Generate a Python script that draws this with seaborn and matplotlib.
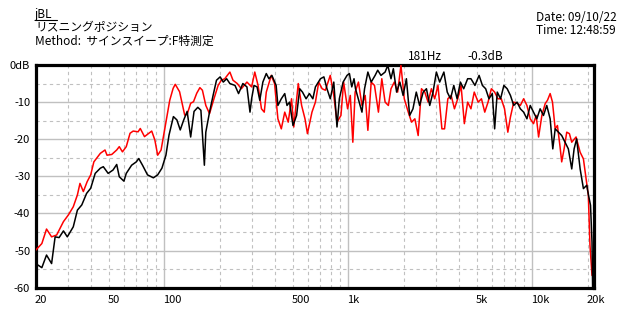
import numpy as np
import pandas as pd
import matplotlib
matplotlib.use("Agg")
import matplotlib.pyplot as plt
import matplotlib.transforms as mtrans
from matplotlib.lines import Line2D
import seaborn as sns

# ---------------- data ----------------
red_freq = [20, 21.6, 22.9, 24.4, 26.0, 28.3, 30.1, 32.0, 33.7, 34.8, 36.3, 38.1, 39.8, 41.4,
            44.9, 47.6, 48.8, 51.8, 55.1, 56.9, 59.2, 62.1, 65.1, 67.7, 72.0, 74.0, 78.0, 85.4,
            88.8, 92.0, 96.0, 101, 107, 111.6, 114.6, 121, 129, 133, 139, 144, 150, 156,
            161, 168, 176, 186, 196, 204, 213, 227, 236, 249, 262, 281, 298, 310, 323, 337,
            349, 358, 381, 397, 414, 432, 451, 471, 491, 505, 534, 557, 581, 599, 634, 662,
            690, 720, 750, 797, 833, 867, 911, 942, 990, 1024, 1057, 1088, 1134, 1185, 1234,
            1276, 1330, 1386, 1456, 1519, 1583, 1649, 1704, 1776, 1852, 1930, 2012, 2115,
            2204, 2297, 2394, 2495, 2600, 2710, 2824, 2943, 3067, 3222, 3330, 3470, 3617,
            3769, 3928, 4093, 4266, 4446, 4633, 4828, 5070, 5284, 5507, 5739, 5980, 6232,
            6494, 6768, 7053, 7350, 7594, 7914, 8316, 8594, 8956, 9333, 9726, 10136, 10477,
            10800, 11250, 11730, 12070, 12480, 12850, 13290, 13670, 14130, 14420, 14860,
            15360, 15880, 16350, 17260, 18160, 18920, 19550, 20120, 20540, 21070]
red_db = [-49.9, -48.1, -44.2, -46.3, -45.8, -42.2, -40.4, -38.2, -35.0, -31.9, -34.1, -31.4, -29.6, -26.1,
          -23.8, -22.9, -24.3, -24.1, -22.9, -22.0, -23.4, -22.0, -18.4, -17.8, -18.0, -17.1, -19.3, -17.8,
          -20.2, -24.3, -22.9, -16.6, -9.5, -6.3, -5.2, -7.2, -13.5, -13.3, -10.3, -9.9, -7.6, -6.1,
          -6.8, -10.9, -13.1, -9.1, -5.5, -4.1, -3.7, -1.9, -4.1, -5.0, -6.4, -4.6, -5.9, -1.9, -5.5, -11.8,
          -12.7, -7.3, -2.8, -5.0, -14.5, -17.2, -12.7, -15.4, -9.1, -16.7, -5.0, -10.9, -14.5, -18.5, -12.7, -10.0,
          -4.6, -6.4, -6.8, -2.8, -8.2, -15.4, -13.6, -4.6, -11.8, -8.2, -20.8, -7.3, -4.6, -10.9, -8.2,
          -17.6, -4.6, -5.5, -12.7, -3.7, -10.0, -10.9, -6.4, -4.6, -7.3, -0.1, -9.1, -12.7,
          -15.4, -14.5, -19.0, -6.4, -7.3, -10.0, -6.4, -9.1, -5.5, -17.2, -17.2, -9.1, -8.2,
          -11.8, -9.1, -5.5, -15.8, -10.0, -11.8, -7.3, -10.0, -9.1, -12.7, -10.0, -6.4, -7.3,
          -9.1, -9.1, -11.8, -18.1, -14.0, -10.0, -10.4, -10.9, -9.1, -10.9, -14.5, -15.8, -13.6,
          -19.4, -13.6, -10.4, -9.5, -7.7, -10.0, -17.2, -16.3, -22.1, -26.1, -22.6,
          -18.1, -18.5, -20.8, -19.4, -23.5, -25.3, -30.6, -35.1, -48.6, -56.7]

black_freq = [20, 21.6, 22.9, 24.4, 25.5, 26.8, 28.3, 29.7, 32.0, 33.7, 35.6, 37.8, 39.8, 42.1,
              44.9, 46.6, 49.5, 52.6, 55.1, 56.9, 60.3, 62.1, 66.4, 70.4, 72.6, 76.1, 81.0, 87.2,
              92.0, 97, 102, 106, 112, 117, 122, 127, 133, 139, 145, 152, 158, 165, 168, 176,
              184, 192, 201, 209, 218, 227, 242, 253, 267, 281, 292, 298, 307, 319, 330, 343,
              358, 370, 384, 405, 414, 432, 451, 464, 479, 500, 523, 544, 563, 589, 614, 641,
              662, 705, 736, 765, 797, 833, 867, 893, 936, 983, 1013, 1043, 1073, 1093, 1144,
              1185, 1224, 1276, 1330, 1397, 1443, 1503, 1583, 1637, 1704, 1755, 1828, 1904,
              1983, 2066, 2152, 2243, 2338, 2437, 2549, 2655, 2767, 2884, 3006, 3133, 3302,
              3444, 3588, 3738, 3896, 4060, 4232, 4446, 4633, 4870, 5130, 5347, 5570, 5805,
              6051, 6232, 6440, 6712, 6995, 7290, 7594, 7914, 8248, 8594, 8956, 9333, 9726,
              10136, 10560, 11010, 11480, 11960, 12480, 12900, 13290, 13850, 14420, 15030,
              15670, 16350, 16840, 17380, 18160, 18920, 19730, 20170, 20680, 21070, 21230]
black_db = [-53.5, -54.6, -51.2, -53.5, -46.3, -46.5, -44.7, -46.3, -43.6, -39.1, -37.7, -34.6, -33.2, -29.2,
            -27.8, -27.4, -29.2, -28.3, -26.8, -30.1, -31.3, -29.2, -27.0, -26.1, -25.2, -27.0, -29.6, -30.4,
            -29.6, -27.8, -24.3, -18.9, -13.9, -14.8, -17.5, -15.0, -12.5, -19.4, -12.5, -11.4, -12.2, -27.0, -18.1, -12.7,
            -8.2, -4.1, -3.2, -4.6, -3.7, -5.0, -5.5, -7.7, -5.0, -5.9, -12.7, -9.1, -5.5, -5.9, -9.5, -4.6,
            -2.3, -3.7, -2.8, -5.5, -10.9, -9.1, -7.7, -10.9, -10.0, -16.3, -13.6, -6.4, -7.3, -9.1, -7.7, -9.1,
            -5.9, -3.7, -3.2, -6.4, -9.1, -4.6, -16.7, -9.1, -4.6, -2.8, -2.3, -5.9, -3.7, -6.4, -10.0,
            -12.7, -6.4, -1.9, -4.6, -2.8, -1.4, -2.8, -1.9, -0.1, -3.7, -1.0, -7.3, -4.6,
            -8.2, -3.7, -13.6, -11.8, -7.3, -10.9, -7.3, -6.4, -10.9, -7.3, -1.9, -4.6, -1.9,
            -7.3, -9.1, -5.5, -9.1, -4.6, -6.4, -3.7, -3.7, -5.5, -2.8, -5.5, -6.4, -9.1,
            -7.7, -17.2, -7.3, -9.1, -5.5, -6.4, -8.2, -10.9, -10.0, -11.8, -12.7, -14.5, -10.9,
            -12.7, -14.5, -11.8, -13.6, -10.9, -14.5, -22.6, -17.2, -18.1, -19.0, -20.8,
            -22.6, -28.0, -22.6, -19.9, -28.0, -33.3, -32.4, -35.1, -37.8, -47.7, -60.0]

x_tick_values = [20, 50, 100, 500, 1000, 5000, 10000, 20000]
x_tick_labels = ["20", "50", "100", "500", "1k", "5k", "10k", "20k"]
y_tick_values = [0, -10, -20, -30, -40, -50, -60]
y_tick_labels = ["0dB", "-10", "-20", "-30", "-40", "-50", "-60"]

x_major_grid = [100, 1000, 10000]
x_minor_grid = [30, 40, 50, 60, 70, 80, 90, 200, 300, 400, 500, 600, 700, 800, 900,
                2000, 3000, 4000, 5000, 6000, 7000, 8000, 9000, 20000]
y_major_grid = [-10, -20, -30, -40, -50]
y_minor_grid = [-5, -15, -25, -35, -45, -55]

header_lines = ["jBL", "リスニングポジション", "Method:  サインスイープ:F特測定"]
date_text = "Date: 09/10/22"
time_text = "Time: 12:48:59"
cursor_freq_text = "181Hz"
cursor_db_text = "-0.3dB"

# ---------------- figure ----------------
sns.set_style("white")
plt.rcParams["font.family"] = ["Noto Sans CJK JP", "DejaVu Sans"]

W, H = 633, 317
fig = plt.figure(figsize=(W / 100, H / 100), dpi=100)
fig.patch.set_facecolor("white")

L, R, T, B = 35.7, 594.0, 65.0, 287.7
ax = fig.add_axes([L / W, (H - B) / H, (R - L) / W, (B - T) / H])

df = pd.concat([
    pd.DataFrame({"freq": red_freq, "db": red_db, "series": "red"}),
    pd.DataFrame({"freq": black_freq, "db": black_db, "series": "black"}),
], ignore_index=True)

sns.lineplot(data=df, x="freq", y="db", hue="series",
             palette={"red": "#ff0000", "black": "#000000"},
             estimator=None, sort=False, linewidth=1.1, legend=False, ax=ax, zorder=3)

ax.set_xscale("log")
ax.set_xlim(20, 21600)
ax.set_ylim(-60, 0)
ax.set_xlabel("")
ax.set_ylabel("")
ax.grid(False)

gcol = "#c0c0c0"
for f in x_major_grid:
    ax.axvline(f, color=gcol, lw=1.0, zorder=1)
for f in x_minor_grid:
    ax.axvline(f, color=gcol, lw=0.8, ls=(0, (3, 3)), zorder=1)
for v in y_major_grid:
    ax.axhline(v, color=gcol, lw=1.0, zorder=1)
for v in y_minor_grid:
    ax.axhline(v, color=gcol, lw=0.8, ls=(0, (3, 3)), zorder=1)

ax.set_xticks(x_tick_values)
ax.set_xticklabels(x_tick_labels)
ax.xaxis.set_minor_locator(matplotlib.ticker.NullLocator())
ax.set_yticks(y_tick_values)
ax.set_yticklabels(y_tick_labels)

ax.tick_params(axis="both", which="major", direction="out", length=3, width=1,
               color="black", labelsize=8, labelcolor="black")
ax.tick_params(axis="x", pad=2)
ax.tick_params(axis="y", pad=1)
off = mtrans.ScaledTranslation(-1.5 / 100, 0, fig.dpi_scale_trans)
for lab in ax.get_xticklabels():
    lab.set_horizontalalignment("left")
    lab.set_transform(lab.get_transform() + off)

for sp in ax.spines.values():
    sp.set_visible(True)
    sp.set_color("black")
    sp.set_linewidth(2.3)

# ---------------- header texts ----------------
def ftext(x, y, s, **kw):
    fig.text(x / W, 1 - y / H, s, va="baseline", ha="left", fontsize=8.5, color="black", **kw)

ftext(35, 18, header_lines[0])
fig.add_artist(Line2D([35 / W, 57 / W], [1 - 20 / H, 1 - 20 / H], color="black", lw=0.8))
ftext(35, 31, header_lines[1])
ftext(35, 45, header_lines[2])
ftext(536, 21, date_text)
ftext(536, 34, time_text)
ftext(408, 59.5, cursor_freq_text)
ftext(467, 59.5, cursor_db_text)

fig.savefig("out.png", dpi=100, facecolor="white")
